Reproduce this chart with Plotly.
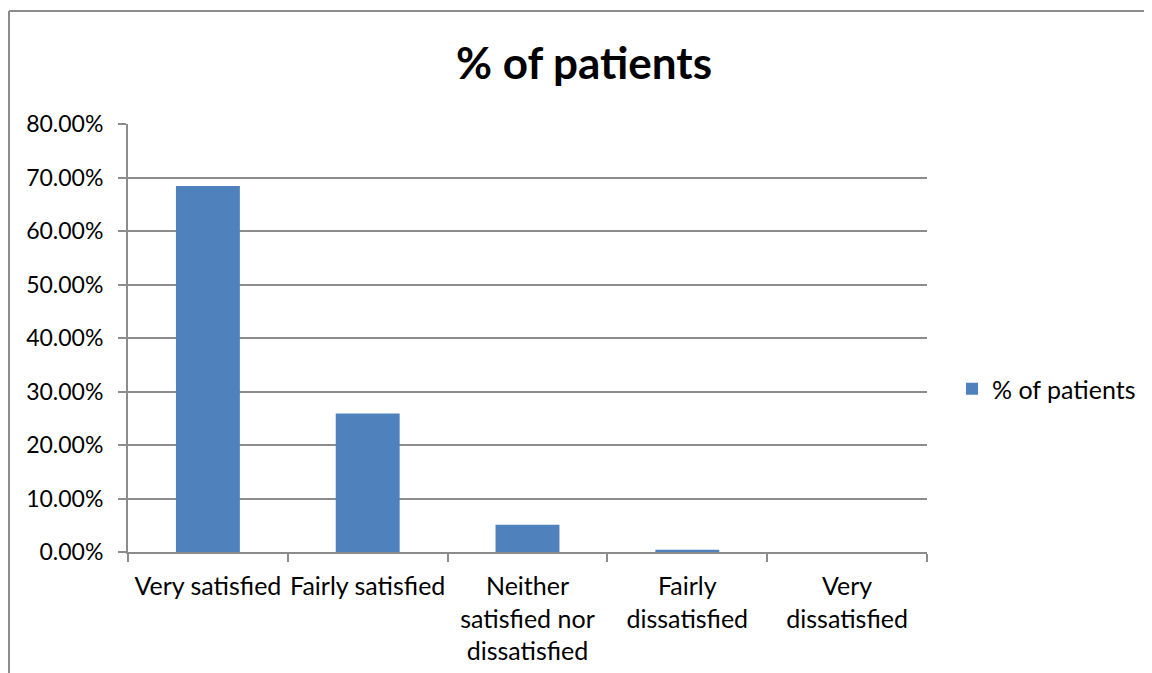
import plotly.graph_objects as go

categories = ["Very satisfied", "Fairly satisfied", "Neither satisfied nor dissatisfied",
              "Fairly dissatisfied", "Very dissatisfied"]
tick_labels = ["Very satisfied", "Fairly satisfied", "Neither<br>satisfied nor<br>dissatisfied",
               "Fairly<br>dissatisfied", "Very<br>dissatisfied"]
values = [0.684, 0.259, 0.051, 0.004, 0.0]
y_ticks = [0, 0.1, 0.2, 0.3, 0.4, 0.5, 0.6, 0.7, 0.8]
series_name = "% of patients"
title_text = "% of patients"

OFF = 8  # page body margin
W, H = 1152 - OFF, 673 - OFF
# target screen positions of plot area
PX0, PX1, PY0, PY1 = 128, 927, 124, 552
L, T = PX0 - OFF, PY0 - OFF
R = W - (PX1 - OFF)
B = H - (PY1 - OFF)
pw = W - L - R
ph = H - T - B


def px(x):
    return (x - PX0) / pw


def py(y):
    return (PY1 - y) / ph


FONT = "Lato"
GRID = "#8c8c8c"

fig = go.Figure()
fig.add_trace(go.Bar(
    x=categories, y=values, name=series_name,
    marker=dict(color="#4F81BD", line=dict(width=0)),
    showlegend=True,
))

fig.update_layout(
    width=W, height=H,
    margin=dict(l=L, r=R, t=T, b=B, autoexpand=False),
    paper_bgcolor="white", plot_bgcolor="white",
    bargap=0.6,
    font=dict(family=FONT, size=24, color="black"),
    title=dict(text="<b>" + title_text + "</b>", x=(584 - OFF) / W, xanchor="center",
               y=1 - (64 - OFF) / H, yanchor="middle",
               font=dict(family=FONT, size=44, color="black")),
    legend=dict(x=px(952), y=py(389), xanchor="left", yanchor="middle",
                font=dict(family=FONT, size=25), itemwidth=30, bgcolor="rgba(0,0,0,0)"),
    xaxis=dict(
        tickmode="array", tickvals=categories, ticktext=tick_labels,
        tickson="boundaries", ticks="outside", ticklen=8, tickcolor=GRID, tickwidth=2,
        showline=True, linecolor=GRID, linewidth=2, tickangle=0, automargin=False,
        showgrid=False, tickfont=dict(family=FONT, size=25),
        ticklabelstandoff=11,
    ),
    yaxis=dict(
        range=[0, 0.8], tickvals=y_ticks, tickformat=".2%",
        ticks="outside", ticklen=8, tickcolor=GRID, tickwidth=2,
        showline=True, linecolor=GRID, linewidth=2, automargin=False,
        showgrid=True, gridcolor=GRID, gridwidth=2,
        zeroline=False, tickfont=dict(family=FONT, size=23),
        ticklabelstandoff=10,
    ),
    shapes=[
        dict(type="line", xref="paper", yref="paper",
             x0=px(9), x1=px(1160), y0=py(11), y1=py(11),
             line=dict(color=GRID, width=2)),
        dict(type="line", xref="paper", yref="paper",
             x0=px(9), x1=px(9), y0=py(11), y1=py(680),
             line=dict(color=GRID, width=2)),
    ],
)

fig.write_html("out.html")
